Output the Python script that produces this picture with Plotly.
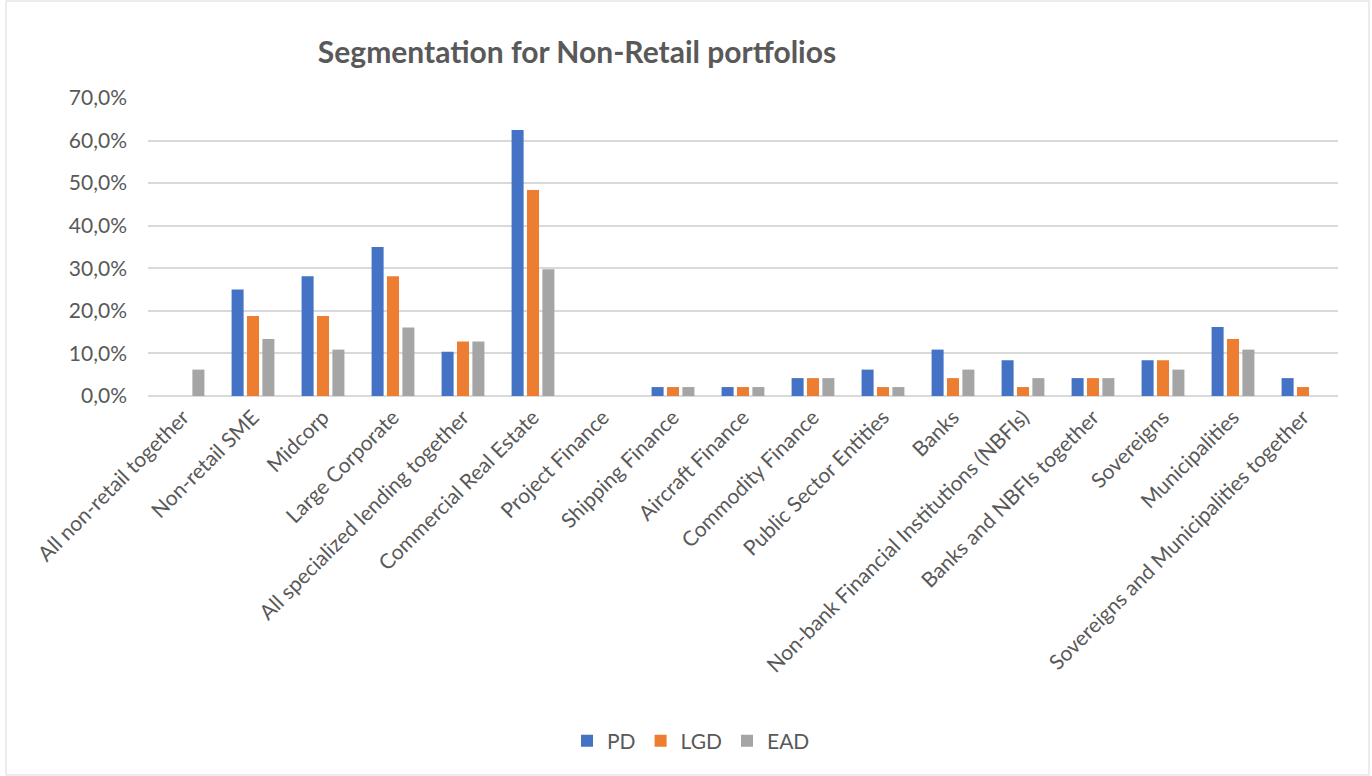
import plotly.graph_objects as go

categories = [
    "All non-retail together", "Non-retail SME", "Midcorp", "Large Corporate",
    "All specialized lending together", "Commercial Real Estate", "Project Finance",
    "Shipping Finance", "Aircraft Finance", "Commodity Finance", "Public Sector Entities",
    "Banks", "Non-bank Financial Institutions (NBFIs)", "Banks and NBFIs together",
    "Sovereigns", "Municipalities", "Sovereigns and Municipalities together",
]
pd_vals = [None, 25.0, 28.1, 35.0, 10.4, 62.5, None, 2.1, 2.1, 4.2, 6.2, 10.9, 8.4, 4.2, 8.4, 16.2, 4.2]
lgd_vals = [None, 18.8, 18.8, 28.1, 12.8, 48.4, None, 2.1, 2.1, 4.2, 2.1, 4.2, 2.1, 4.2, 8.4, 13.4, 2.1]
ead_vals = [6.2, 13.4, 10.9, 16.1, 12.8, 29.8, None, 2.1, 2.1, 4.2, 2.1, 6.2, 4.2, 4.2, 6.2, 10.9, None]

series = [("PD", pd_vals, "#4472C4"), ("LGD", lgd_vals, "#ED7D31"), ("EAD", ead_vals, "#A5A5A5")]

W, H = 1372, 776
ML, MR, MT, MB = 148, 34, 98, 380
PW, PH = W - ML - MR, H - MT - MB

def px_x(p):
    return (p - ML) / PW

def px_y(p):
    return (H - MB - p) / PH

fig = go.Figure()
for name, vals, color in series:
    fig.add_trace(go.Bar(
        name=name, x=categories,
        y=[v / 100 if v is not None else None for v in vals],
        marker=dict(color=color, line=dict(width=0)),
    ))

font_family = "Lato, 'Open Sans', sans-serif"
txt = "#595959"

fig.update_layout(
    width=W, height=H,
    margin=dict(l=ML, r=MR, t=MT, b=MB),
    paper_bgcolor="white", plot_bgcolor="white",
    separators=",.",
    barmode="group", bargap=0.34, bargroupgap=0.22,
    font=dict(family=font_family, color=txt, size=21),
    title=dict(
        text="<b>Segmentation for Non-Retail portfolios</b>",
        x=577 / W, xref="container", xanchor="center",
        y=1 - 52 / H, yref="container", yanchor="middle",
        font=dict(size=30, color=txt, family=font_family),
    ),
    legend=dict(
        orientation="h", x=px_x(691), xanchor="center",
        y=px_y(741), yanchor="middle",
        font=dict(size=21, color=txt),
        itemsizing="constant",
    ),
    showlegend=True,
)
fig.update_yaxes(
    range=[0, 0.7], dtick=0.1, tickformat=".1%",
    showgrid=True, gridcolor="#d9d9d9", gridwidth=1.5,
    zeroline=True, zerolinecolor="#d9d9d9", zerolinewidth=1.5,
    showline=False, ticks="", ticklabelstandoff=20,
    tickfont=dict(size=21, color=txt),
)
fig.update_xaxes(
    tickangle=-45, showline=False, ticks="", ticklabelstandoff=4,
    tickfont=dict(size=21, color=txt),
)
fig.add_shape(
    type="rect", xref="paper", yref="paper",
    x0=px_x(6), x1=px_x(1369), y0=px_y(775), y1=px_y(1),
    line=dict(color="#d9d9d9", width=1), layer="below",
)

fig.write_html(
    "out.html",
    config={"displayModeBar": False},
    post_script="document.body.style.margin='0';document.body.style.padding='0';",
)
